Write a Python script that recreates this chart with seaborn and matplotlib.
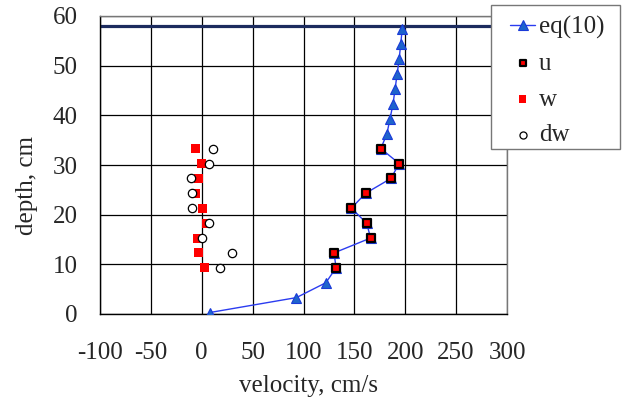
import matplotlib
matplotlib.use("Agg")
import matplotlib.pyplot as plt
from matplotlib.patches import Rectangle
import seaborn as sns
import pandas as pd

# ---- data ----
eq10_depth = [0.3, 3.3, 6.3, 9.3, 12.3, 15.3, 18.3, 21.3, 24.3, 27.3,
              30.3, 33.3, 36.3, 39.3, 42.3, 45.3, 48.3, 51.3, 54.3, 57.3]
eq10_vel = [8, 93, 122, 132, 130, 166, 162, 147, 161, 186,
            194, 176, 182, 185, 188, 190, 192, 194, 195.5, 197]

obs_depth = [9.3, 12.3, 15.3, 18.3, 21.3, 24.3, 27.3, 30.3, 33.3]
u_vel = [132, 130, 166, 162, 147, 161, 186, 194, 176]
w_vel = [2.3, -3, -3.9, 4.9, 0.4, -6.5, -3, -0.6, -5.9]
dw_vel = [18.4, 30.2, 0, 7.6, -9.5, -9.5, -10.4, 7.6, 11.2]

surface_depth = 58
x_ticks = [-100, -50, 0, 50, 100, 150, 200, 250, 300]
y_ticks = [0, 10, 20, 30, 40, 50, 60]

# ---- style ----
sns.set_style("white")
plt.rcParams['font.family'] = ['Liberation Serif', 'DejaVu Serif']
plt.rcParams['font.size'] = 18
plt.rcParams['axes.unicode_minus'] = False

W, H = 623, 403
fig = plt.figure(figsize=(W/100, H/100), dpi=100)
ax = fig.add_axes([100/W, 1-314/H, 407/W, 298/H])

ax.set_xlim(-100, 300)
ax.set_ylim(0, 60)
ax.set_xticks(x_ticks)
ax.set_yticks(y_ticks)
ax.grid(True, color='black', lw=0.9)
ax.set_axisbelow(True)

ax.axhline(surface_depth, color='#1c2b5e', lw=2.3, zorder=2)

eq_df = pd.DataFrame({'vel': eq10_vel, 'depth': eq10_depth})
sns.lineplot(data=eq_df, x='vel', y='depth', sort=False, estimator=None,
             color='#2b3cf0', lw=1.0, marker='^', markersize=7.8,
             markerfacecolor='#1e64cc', markeredgecolor='#1a3ad8',
             markeredgewidth=0.8, label='eq(10)', ax=ax, zorder=3)

sns.scatterplot(x=u_vel, y=obs_depth, marker='s', s=32, color='#ff0000',
                edgecolor='black', linewidth=1.6, label='u', ax=ax, zorder=4)
sns.scatterplot(x=w_vel, y=obs_depth, marker='s', s=42, color='#ff0000',
                edgecolor='none', linewidth=0, label='w', ax=ax, zorder=4)
sns.scatterplot(x=dw_vel, y=obs_depth, marker='o', s=36, color='white',
                edgecolor='black', linewidth=0.9, label='dw', ax=ax, zorder=5)

if ax.get_legend() is not None:
    ax.get_legend().remove()

ax.tick_params(axis='x', length=0, pad=20, labelsize=18)
ax.tick_params(axis='y', length=0, pad=16, labelsize=18)

for side in ['left', 'bottom']:
    ax.spines[side].set_color('black')
    ax.spines[side].set_linewidth(1.0)
for side in ['top', 'right']:
    ax.spines[side].set_color('#777777')
    ax.spines[side].set_linewidth(1.0)

ax.set_xlabel('velocity, cm/s', fontsize=18)
ax.set_ylabel('depth, cm', fontsize=18)
ax.xaxis.set_label_coords(0.513, -0.205)
ax.yaxis.set_label_coords(-0.152, 0.43)

# legend frame (drawn separately to match the box geometry)
frame = Rectangle((491/W, 1-149/H), 129/W, 144/H, transform=fig.transFigure,
                  facecolor='white', edgecolor='#777777', lw=1.0, zorder=3)
fig.add_artist(frame)

handles, labels = ax.get_legend_handles_labels()
leg = fig.legend(handles, labels, loc='upper left',
                 bbox_to_anchor=(510/W, 1-16/H), borderaxespad=0,
                 frameon=False, fontsize=18, handlelength=1.0,
                 handletextpad=0.15, labelspacing=0.53, borderpad=0.0,
                 markerscale=0.85)
leg.set_zorder(5)

fig.savefig('out.png', dpi=100)
